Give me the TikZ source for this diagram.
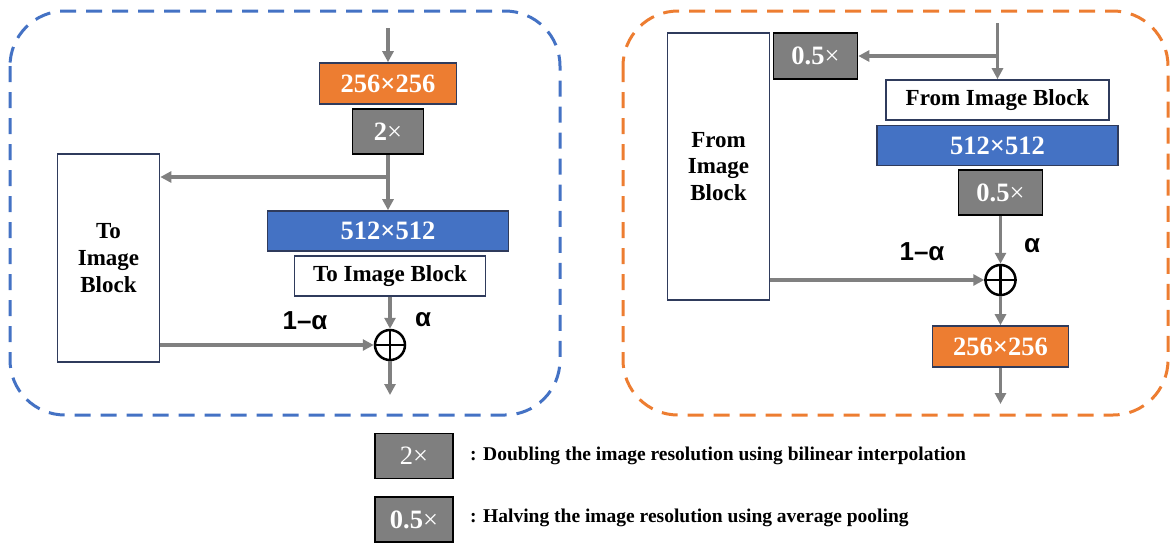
\documentclass[tikz,border=0pt]{standalone}
\usepackage{fontspec}
\setmainfont{Liberation Serif}
\newfontfamily\lsans{Liberation Sans}
\usetikzlibrary{arrows.meta}
\definecolor{orng}{HTML}{ED7D31}
\definecolor{blu}{HTML}{4472C4}
\definecolor{gry}{HTML}{7F7F7F}
\definecolor{arr}{HTML}{808080}
\definecolor{edge}{HTML}{2F3B5C}
\tikzset{
  box/.style={draw=edge, line width=1.6pt, inner sep=0pt, align=center, font=\fontsize{26.5}{28}\selectfont\bfseries},
  orangebox/.style={box, fill=orng, text=white, minimum width=137pt, minimum height=41pt},
  bluebox/.style={box, fill=blu, text=white, minimum width=241pt, minimum height=40pt},
  graybox/.style={box, draw=black, fill=gry, text=white, minimum width=78pt, minimum height=45pt},
  whitebox/.style={box, fill=white, text=black, font=\fontsize{23}{26}\selectfont\bfseries, minimum height=40pt},
  tallbox/.style={box, fill=white, text=black, font=\fontsize{23}{26.7}\selectfont\bfseries, minimum width=102pt},
  flow/.style={draw=arr, line width=3.2pt, -{Triangle[length=11pt,width=11pt]}},
  flowline/.style={draw=arr, line width=3.2pt},
  plusc/.style={circle, draw=black, line width=2.5pt, minimum size=30pt, inner sep=0pt},
  frame/.style={line width=3pt, dash pattern=on 16pt off 10pt, rounded corners=55pt},
  lbl/.style={font=\lsans\fontsize{26}{28}\selectfont\bfseries, inner sep=0pt},
  legtxt/.style={font=\fontsize{19.5}{22}\selectfont\bfseries, anchor=west, inner sep=0pt}
}
\newcommand{\plussign}[1]{\draw[black, line width=2.5pt] (#1.north) -- (#1.south) (#1.west) -- (#1.east);}
\begin{document}
\begin{tikzpicture}[x=1pt,y=-1pt]
\useasboundingbox (0,0) rectangle (1170,542);
% frames
\draw[frame, draw=blu] (10,11) rectangle (560,415);
\draw[frame, draw=orng] (623,11) rectangle (1168,415);

% ---------- left panel ----------
\coordinate (inL) at (388,28);
\node[orangebox] (orL) at (388,83.5) {256×256};
\node[graybox, minimum width=71pt] (grL) at (388,131.5) {2{\mdseries ×}};
\coordinate (brL) at (388,177);
\node[tallbox, minimum height=208pt] (tallL) at (108.5,258) {To\\Image\\Block};
\node[bluebox] (blL) at (388,231) {512×512};
\node[whitebox, minimum width=191pt] (tibL) at (390,276) {To Image Block};
\node[plusc] (plL) at (390,345) {};
\plussign{plL}
\coordinate (outL) at (390,395);
\draw[flow] (inL) -- (orL.north);
\draw[flowline] (grL.south) -- (brL);
\draw[flow] (brL) -- (blL.north);
\draw[flow] (brL) -- (tallL.east |- brL);
\draw[flow] (tibL.south) -- (plL.north);
\draw[flow] (tallL.east |- plL) -- (plL.west);
\draw[flow] (plL.south) -- (outL);
\node[lbl] (aL1) at (305,321) {1–α};
\node[lbl] (aL2) at (423,320) {α};

% ---------- right panel ----------
\coordinate (inR) at (997.5,23);
\coordinate (brR) at (997.5,56);
\node[tallbox, minimum height=267pt] (tallR) at (718.5,166.5) {From\\Image\\Block};
\node[graybox, minimum width=84pt, minimum height=46pt] (grR1) at (815.5,56) {0.5{\mdseries ×}};
\node[whitebox, minimum width=223pt] (fibR) at (997.5,100) {From Image Block};
\node[bluebox] (blR) at (997.5,145.5) {512×512};
\node[graybox, minimum width=84pt] (grR2) at (1000.5,192.5) {0.5{\mdseries ×}};
\node[plusc] (plR) at (1000.5,280) {};
\plussign{plR}
\node[orangebox, minimum width=136pt] (orR) at (1000.5,346.5) {256×256};
\coordinate (outR) at (1000.5,404);
\draw[flowline] (inR) -- (brR);
\draw[flow] (brR) -- (fibR.north);
\draw[flow] (brR) -- (grR1.east);
\draw[flow] (grR2.south) -- (plR.north);
\draw[flow] (tallR.east |- plR) -- (plR.west);
\draw[flow] (plR.south) -- (orR.north);
\draw[flow] (orR.south) -- (outR);
\node[lbl] (aR1) at (922,252) {1–α};
\node[lbl] (aR2) at (1032,246) {α};

% ---------- legend ----------
\node[graybox] (lg1) at (414,456) {\mdseries 2×};
\node[graybox] (lg2) at (414,519.5) {0.5{\mdseries ×}};
\node[legtxt] (lt1) at (470,456) {: Doubling the image resolution using bilinear interpolation};
\node[legtxt] (lt2) at (470,518) {: Halving the image resolution using average pooling};
\end{tikzpicture}
\end{document}
